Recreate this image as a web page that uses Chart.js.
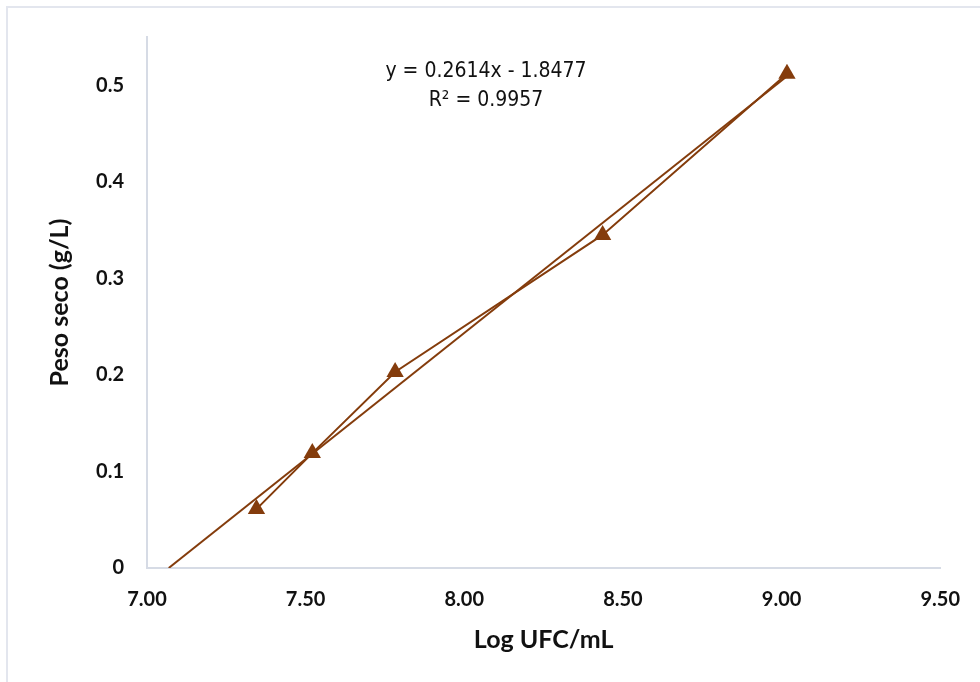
<!DOCTYPE html>
<html>
<head>
<meta charset="utf-8">
<script src="https://cdn.jsdelivr.net/npm/chart.js@4/dist/chart.umd.min.js"></script>
<style>
  html, body { margin: 0; padding: 0; background: #fff; }
  #wrap { position: relative; width: 980px; height: 682px; }
  #frame { position: absolute; left: 6px; top: 6px; right: 0; bottom: 0;
           border-top: 2px solid #e3e6ee; border-left: 2px solid #e3e6ee; pointer-events: none; }
  canvas { display: block; }
</style>
</head>
<body>
<div id="wrap">
  <canvas id="chart" width="980" height="682"></canvas>
  <div id="frame"></div>
</div>
<script>
// measured points
const logUfc = [7.345, 7.521, 7.782, 8.436, 9.017];
const pesoSeco = [0.061, 0.119, 0.203, 0.345, 0.512];

// linear fit y = slope*x + intercept, R²
const slope = 0.2614;
const intercept = -1.8477;
const r2 = 0.9957;
const fitFrom = -intercept / slope;          // where the fit crosses 0
const fitTo = logUfc[logUfc.length - 1];

const xTicks = [7.0, 7.5, 8.0, 8.5, 9.0, 9.5];
const yTicks = [0, 0.1, 0.2, 0.3, 0.4, 0.5];

const BROWN = "#843c0c";
const AXIS = "#d6dbe5";

const eqLabel = {
  id: "eqLabel",
  afterDatasetsDraw(chart){
    const { ctx } = chart;
    ctx.save();
    ctx.fillStyle = "#111";
    ctx.font = "21px 'Liberation Sans Narrow', 'DejaVu Sans Condensed', sans-serif";
    ctx.textAlign = "center";
    ctx.textBaseline = "middle";
    ctx.fillText(`y = ${slope}x - ${Math.abs(intercept)}`, 486, 72);
    ctx.fillText(`R² = ${r2}`, 486, 101);
    ctx.restore();
  }
};

new Chart(document.getElementById("chart").getContext("2d"), {
  type: "scatter",
  data: {
    datasets: [
      {
        label: "Peso seco",
        data: logUfc.map((x, i) => ({ x, y: pesoSeco[i] })),
        showLine: true,
        borderColor: BROWN,
        borderWidth: 2,
        backgroundColor: BROWN,
        pointStyle: "triangle",
        pointRadius: 10,
        pointBorderWidth: 0,
        pointBackgroundColor: BROWN,
        order: 1
      },
      {
        label: "Lineal",
        data: [fitFrom, fitTo].map(x => ({ x, y: slope * x + intercept })),
        showLine: true,
        borderColor: BROWN,
        borderWidth: 2,
        pointRadius: 0,
        order: 2
      }
    ]
  },
  options: {
    responsive: false,
    animation: false,
    layout: { padding: { left: 0, right: 37, top: 37, bottom: 0 } },
    plugins: { legend: { display: false }, tooltip: { enabled: false } },
    scales: {
      x: {
        type: "linear",
        min: 7, max: 9.5,
        afterFit: s => { s.height = 114; },
        afterBuildTicks: s => { s.ticks = xTicks.map(v => ({ value: v })); },
        grid: { display: false, drawTicks: false },
        border: { display: true, color: AXIS, width: 2 },
        ticks: {
          padding: 20,
          color: "#111",
          font: { family: "Lato", weight: "bold", size: 20 },
          callback: v => Number(v).toFixed(2)
        },
        title: {
          display: true,
          text: "Log UFC/mL",
          color: "#111",
          font: { family: "Lato", weight: "bold", size: 25 },
          padding: { top: 0, bottom: 27 }
        }
      },
      y: {
        type: "linear",
        min: 0, max: 0.55,
        afterFit: s => { s.width = 147; },
        afterBuildTicks: s => { s.ticks = yTicks.map(v => ({ value: v })); },
        grid: { display: false, drawTicks: false },
        border: { display: true, color: AXIS, width: 2 },
        ticks: {
          padding: 23,
          color: "#111",
          font: { family: "Lato", weight: "bold", size: 20 },
          callback: v => v === 0 ? "0" : Number(v).toFixed(1)
        },
        title: {
          display: true,
          text: "Peso seco (g/L)",
          color: "#111",
          font: { family: "Lato", weight: "bold", size: 25 },
          padding: { top: 45, bottom: 0 }
        }
      }
    }
  },
  plugins: [eqLabel]
});
</script>
</body>
</html>
